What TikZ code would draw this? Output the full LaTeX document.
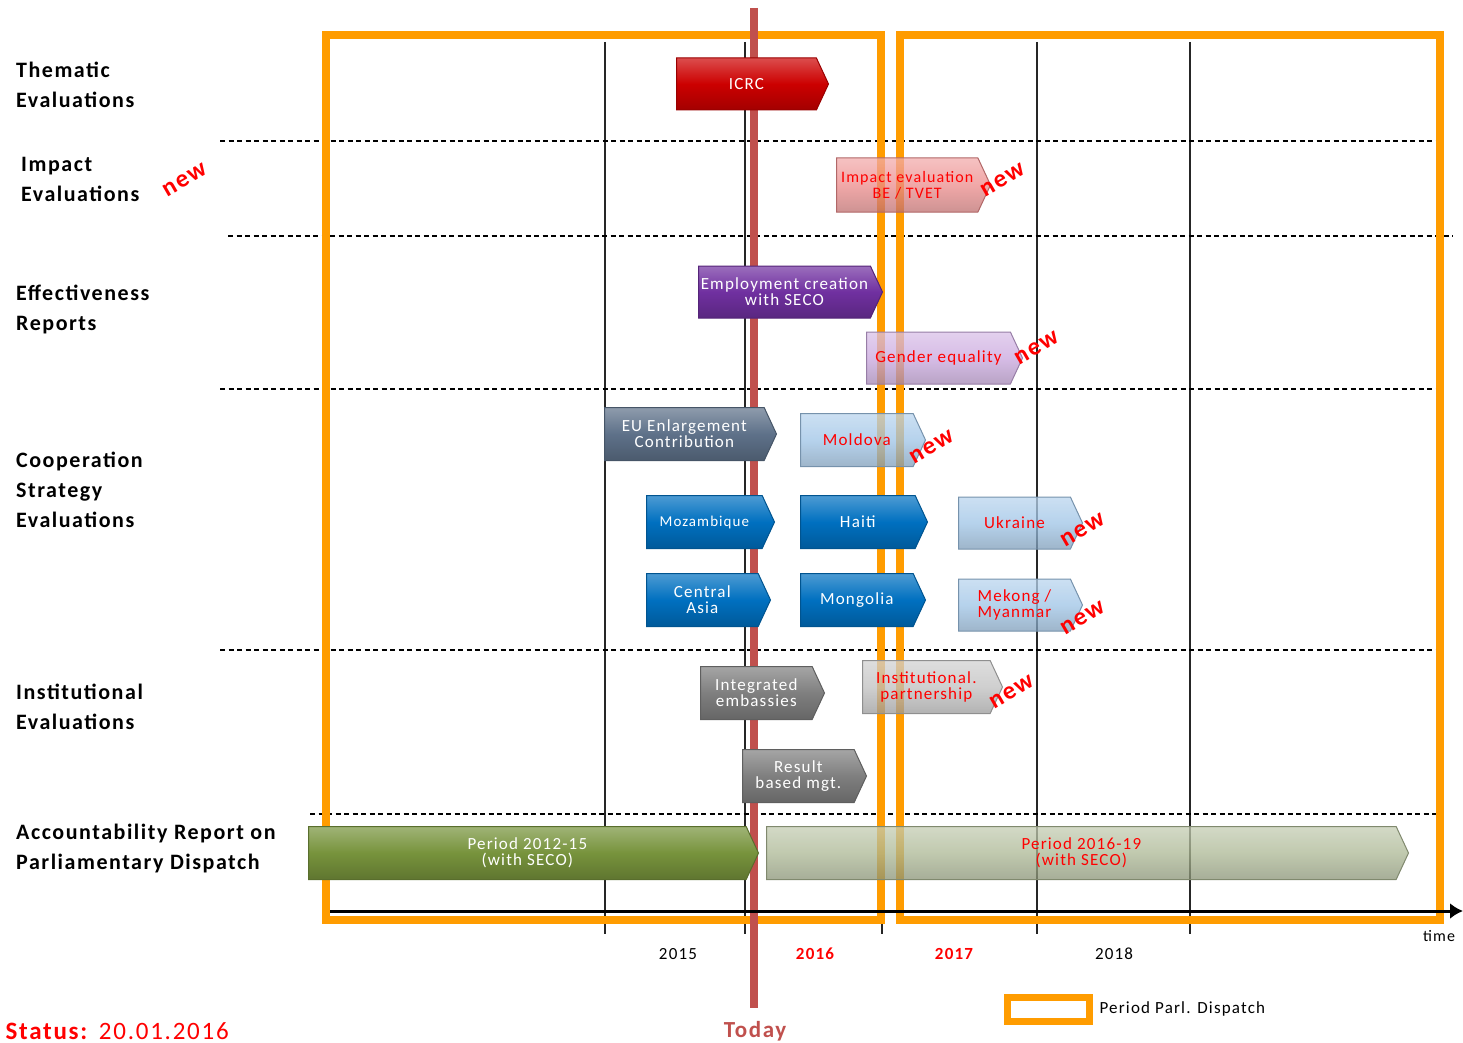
\documentclass[tikz,border=0pt]{standalone}
\usepackage{fontspec}
\setmainfont{Carlito}[LetterSpace=7]
\usetikzlibrary{shapes.symbols,arrows.meta}
\definecolor{pdOrange}{HTML}{FF9C00}
\definecolor{todayRed}{HTML}{C0504D}
\definecolor{icrcRed}{HTML}{CC0000}
\definecolor{iePink}{HTML}{EC8A8A}
\definecolor{erPurple}{HTML}{7030A0}
\definecolor{erLilac}{HTML}{C9A6DE}
\definecolor{euSlate}{HTML}{5E7189}
\definecolor{csBlue}{HTML}{0070C0}
\definecolor{csLight}{HTML}{9DC3E6}
\definecolor{ieGrey}{HTML}{7F7F7F}
\definecolor{ieLight}{HTML}{BFBFBF}
\definecolor{arGreen}{HTML}{77933C}
\definecolor{arOlive}{HTML}{ABB793}

\begin{document}
\begin{tikzpicture}[x=1pt,y=-1pt,>=latex]
  \tikzstyle{grid}=[line width=1.1pt,black!85]
  \tikzstyle{sep}=[line width=1.1pt,dash pattern=on 5pt off 3.5pt]
  \tikzstyle{period}=[draw=pdOrange,line width=8pt]
  \tikzstyle{cat}=[anchor=west,align=left,inner sep=0pt,font=\bfseries\fontsize{22}{30}\selectfont]
  \tikzstyle{newtag}=[text=red,font=\bfseries\fontsize{25}{25}\selectfont,rotate=30]
  \tikzstyle{year}=[font=\fontsize{17}{17}\selectfont]
  \tikzset{evbox/.style={signal,signal to=east,signal pointer angle=130,anchor=west,
      inner sep=0pt,align=center,draw=#1!75!black,line width=1pt,
      top color=#1!70!white,bottom color=#1!80!black,middle color=#1,
      font=\fontsize{17}{16}\selectfont,text=white}}
  \tikzstyle{faded}=[fill opacity=0.75,text opacity=1,text=red]
  \useasboundingbox (0,0) rectangle (1463,1043);

  \foreach \x in {605,745,882,1037,1190}
    \draw[grid] (\x,42) -- (\x,934);
  \draw[sep] (220,141) -- (1440,141);
  \draw[sep] (228,236) -- (1453,236);
  \draw[sep] (220,389) -- (1440,389);
  \draw[sep] (220,650) -- (1440,650);
  \draw[sep] (310,814) -- (1440,814);
  \draw[period] (326,35) rectangle (881,920);
  \draw[period] (900,35) rectangle (1440,920);
  \draw[line width=8pt,todayRed] (754,8) -- (754,1008);

  \coordinate (t0) at (330,911);
  \coordinate (t1) at (1463,911);
  \draw[-{Latex[length=13pt,width=16pt]},line width=3pt] (t0) -- (t1);
  \node[font=\fontsize{16}{16}\selectfont] (timelbl) at (1439,936) {time};

  % categories
  \node[cat] (them) at (16,85) {Thematic\\Evaluations};
  \node[cat] (impact) at (21,179) {Impact\\Evaluations};
  \node[cat] (effect) at (16,309) {Effectiveness\\Reports};
  \node[cat] (coop) at (16,490) {Cooperation\\Strategy\\Evaluations};
  \node[cat] (inst) at (16,707) {Institutional\\Evaluations};
  \node[cat] (account) at (16,849) {Accountability Report on\\Parliamentary Dispatch};

  % evaluations
  \node[evbox=icrcRed,minimum width=152,minimum height=52] (icrc) at (676,84) {ICRC};
  \node[evbox=iePink,faded,minimum width=154,minimum height=54,font=\fontsize{16}{16}\selectfont] (impev) at (836,185) {Impact evaluation\\BE / TVET};
  \node[evbox=erPurple,minimum width=184,minimum height=52] (employ) at (698,292) {Employment creation\\with SECO};
  \node[evbox=erLilac,faded,minimum width=156,minimum height=52] (gender) at (866,358) {Gender equality};
  \node[evbox=euSlate,minimum width=172,minimum height=53] (euenl) at (604,434) {EU Enlargement\\Contribution};
  \node[evbox=csLight,faded,minimum width=125,minimum height=53] (moldova) at (800,440) {Moldova};
  \node[evbox=csBlue,minimum width=128,minimum height=53,font=\fontsize{15}{15}\selectfont] (mozamb) at (646,522) {Mozambique};
  \node[evbox=csBlue,minimum width=127,minimum height=53] (haiti) at (800,522) {Haiti};
  \node[evbox=csLight,faded,minimum width=124,minimum height=52] (ukraine) at (958,523) {Ukraine};
  \node[evbox=csBlue,minimum width=124,minimum height=53] (casia) at (646,600) {Central\\Asia};
  \node[evbox=csBlue,minimum width=125,minimum height=53] (mongolia) at (800,600) {Mongolia};
  \node[evbox=csLight,faded,minimum width=124,minimum height=52] (mekong) at (958,605) {Mekong /\\Myanmar};
  \node[evbox=ieGrey,minimum width=124,minimum height=53] (integr) at (700,693) {Integrated\\embassies};
  \node[evbox=ieLight,faded,minimum width=140,minimum height=53] (instpart) at (862,687) {Institutional.\\partnership};
  \node[evbox=ieGrey,minimum width=124,minimum height=53] (result) at (742,776) {Result\\based mgt.};
  \node[evbox=arGreen,minimum width=450,minimum height=53] (per1215) at (308,853) {Period 2012-15\\(with SECO)};
  \node[evbox=arOlive,faded,minimum width=642,minimum height=53] (per1619) at (766,853) {Period 2016-19\\(with SECO)};

  % new tags
  \node[newtag] (newimp) at (185,180) {new};
  \node[newtag] (newie) at (1003,180) {new};
  \node[newtag] (newgen) at (1037,348) {new};
  \node[newtag] (newmol) at (932,447) {new};
  \node[newtag] (newukr) at (1083,530) {new};
  \node[newtag] (newmek) at (1083,618) {new};
  \node[newtag] (newinst) at (1012,692) {new};

  % years and legend
  \node[year] (y15) at (678,954) {2015};
  \node[year,text=red,font=\bfseries\fontsize{17}{17}\selectfont] (y16) at (815,954) {2016};
  \node[year,text=red,font=\bfseries\fontsize{17}{17}\selectfont] (y17) at (954,954) {2017};
  \node[year] (y18) at (1114,954) {2018};
  \node[text=todayRed,font=\bfseries\fontsize{23}{23}\selectfont] (today) at (755,1031) {Today};
  \node[anchor=west,text=red,font=\fontsize{25}{25}\selectfont] (status) at (2,1031) {\textbf{Status:} 20.01.2016};
  \node[draw=pdOrange,line width=7pt,fill=white,minimum width=82,minimum height=24] (legbox) at (1048,1009) {};
  \node[anchor=west,font=\fontsize{17}{17}\selectfont] (leglbl) at (1096,1009) {Period Parl. Dispatch};
\end{tikzpicture}
\end{document}
